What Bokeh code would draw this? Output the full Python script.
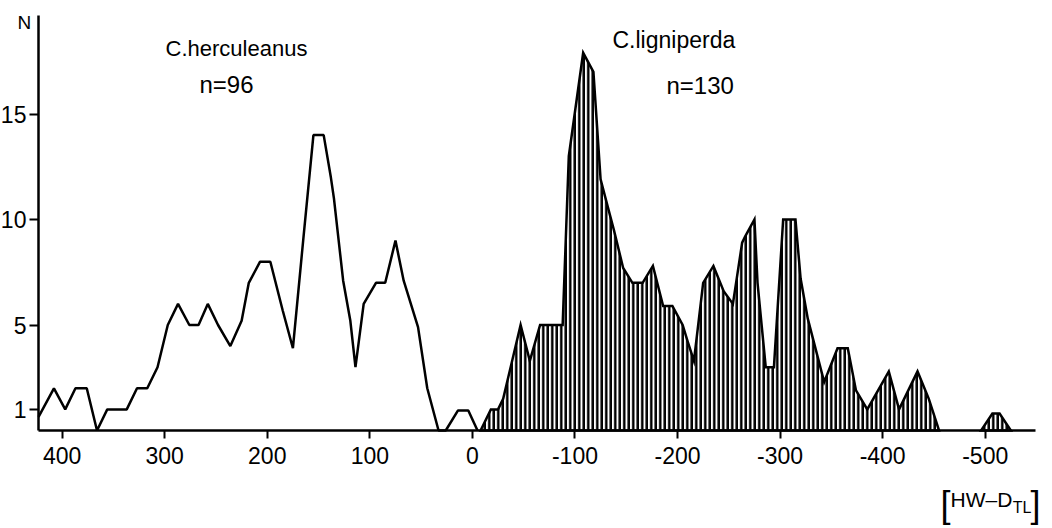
from bokeh.plotting import figure
from bokeh.models import Range1d, FixedTicker, Label
from bokeh.embed import file_html
from bokeh.resources import INLINE

# C. herculeanus frequency polygon (class value, N)
herc_x = [423, 408, 397, 387, 376, 366, 356, 337, 327, 317, 307, 297, 287, 276,
          267, 258, 248, 236, 225, 218, 207, 197, 185, 175, 165, 155, 145, 138,
          135, 126, 119, 114, 106, 94, 85, 75, 67, 53, 44, 33, 26, 14, 4, -5]
herc_n = [0.65, 2, 1, 2, 2, 0, 1, 1, 2, 2, 3, 5, 6, 5,
          5, 6, 5, 4, 5.2, 7, 8, 8, 5.7, 3.9, 9, 14, 14, 12,
          11, 7.1, 5.2, 3, 6, 7, 7, 9, 7.1, 4.9, 2, 0, 0, 0.95, 0.95, 0]

# C. ligniperda frequency polygon (main part)
lig_x = [-8, -18, -25, -30, -47, -56, -66, -86, -88, -94, -108, -118, -125, -132,
         -138, -147, -156, -166, -176, -186, -195, -205, -210, -216, -225, -235,
         -245, -254, -263, -266, -275, -278, -286, -294, -303, -315, -320, -327,
         -335, -343, -356, -366, -374, -385, -406, -416, -434, -445, -455]
lig_n = [0, 1, 1, 1.5, 5, 3.3, 5, 5, 5, 13, 17.9, 17, 11.9, 10.6,
         9.5, 7.7, 7, 7, 7.8, 5.9, 5.9, 5, 4.2, 3.3, 7, 7.8,
         6.6, 6, 8.9, 9.2, 10, 7, 3, 3, 10, 10, 7.2, 5.3,
         3.8, 2.3, 3.9, 3.9, 1.9, 1, 2.8, 1, 2.8, 1.5, 0]

# C. ligniperda isolated class near -500
lig2_x = [-496, -507, -514, -525]
lig2_n = [0, 0.8, 0.8, 0]

x_ticks = [400, 300, 200, 100, 0, -100, -200, -300, -400, -500]
x_tick_labels = ["400", "300", "200", "100", "0", "-100", "-200", "-300", "-400", "-500"]
y_ticks = [1, 5, 10, 15]
y_tick_labels = ["1", "5", "10", "15"]

FONT = "Liberation Sans"

# axis extents (data units)
X_AXIS_LEFT, X_AXIS_RIGHT = 423.1, -549.1
Y_AXIS_TOP = 19.67

p = figure(width=1052, height=528, output_backend="svg", toolbar_location=None,
           x_range=Range1d(460.1, -565.6), y_range=Range1d(-4.645, 20.38),
           min_border=0, min_border_left=0, min_border_right=0,
           min_border_top=0, min_border_bottom=0)
p.outline_line_color = None
p.grid.visible = False
p.background_fill_color = "white"
p.border_fill_color = "white"

# axes (drawn at fixed data locations so that free texts are not clipped)
p.xaxis.fixed_location = 0
p.xaxis.bounds = (X_AXIS_RIGHT, X_AXIS_LEFT)
p.yaxis.fixed_location = X_AXIS_LEFT
p.yaxis.bounds = (0, Y_AXIS_TOP)
p.xaxis.ticker = FixedTicker(ticks=x_ticks)
p.xaxis.major_label_overrides = dict(zip(x_ticks, x_tick_labels))
p.yaxis.ticker = FixedTicker(ticks=y_ticks)
p.yaxis.major_label_overrides = dict(zip(y_ticks, y_tick_labels))
for ax in (p.xaxis, p.yaxis):
    ax.axis_line_width = 2.5
    ax.axis_line_color = "black"
    ax.major_tick_line_width = 2
    ax.major_tick_line_color = "black"
    ax.major_tick_in = 0
    ax.major_tick_out = 9
    ax.minor_tick_line_color = None
    ax.major_label_text_font = FONT
    ax.major_label_text_font_size = "23px"
    ax.major_label_text_color = "black"
p.xaxis.major_tick_out = 8
p.xaxis.major_label_standoff = 9
p.yaxis.major_label_standoff = 3

# polygons
p.patches([lig_x, lig2_x], [lig_n, lig2_n], fill_color="white",
          hatch_pattern="vertical_line", hatch_scale=4.5, hatch_weight=2.5,
          hatch_color="black", line_color="black", line_width=2.5,
          line_join="miter")
p.line(herc_x, herc_n, line_color="black", line_width=2.5)

def lab(x, y, t, size="22px", align="left"):
    p.add_layout(Label(x=x, y=y, text=t, text_font=FONT, text_font_size=size,
                       text_color="black", text_align=align,
                       text_baseline="alphabetic"))

lab(299.2, 18.1, "C.herculeanus", size="22px")
lab(266.1, 16.4, "n=96", size="24px")
lab(-136.6, 18.53, "C.ligniperda", size="23px")
lab(-189.2, 16.35, "n=130", size="24px")
lab(443.5, 19.35, "N", size="19px")

# axis quantity label [HW-D_TL]
lab(-456.4, -3.507, "[", size="36px")
lab(-466.2, -3.27, "HW\u2013D", size="21px")
lab(-526.8, -3.65, "TL", size="16px")
lab(-544.2, -3.507, "]", size="36px")

open("out.html", "w").write(file_html(p, INLINE))
